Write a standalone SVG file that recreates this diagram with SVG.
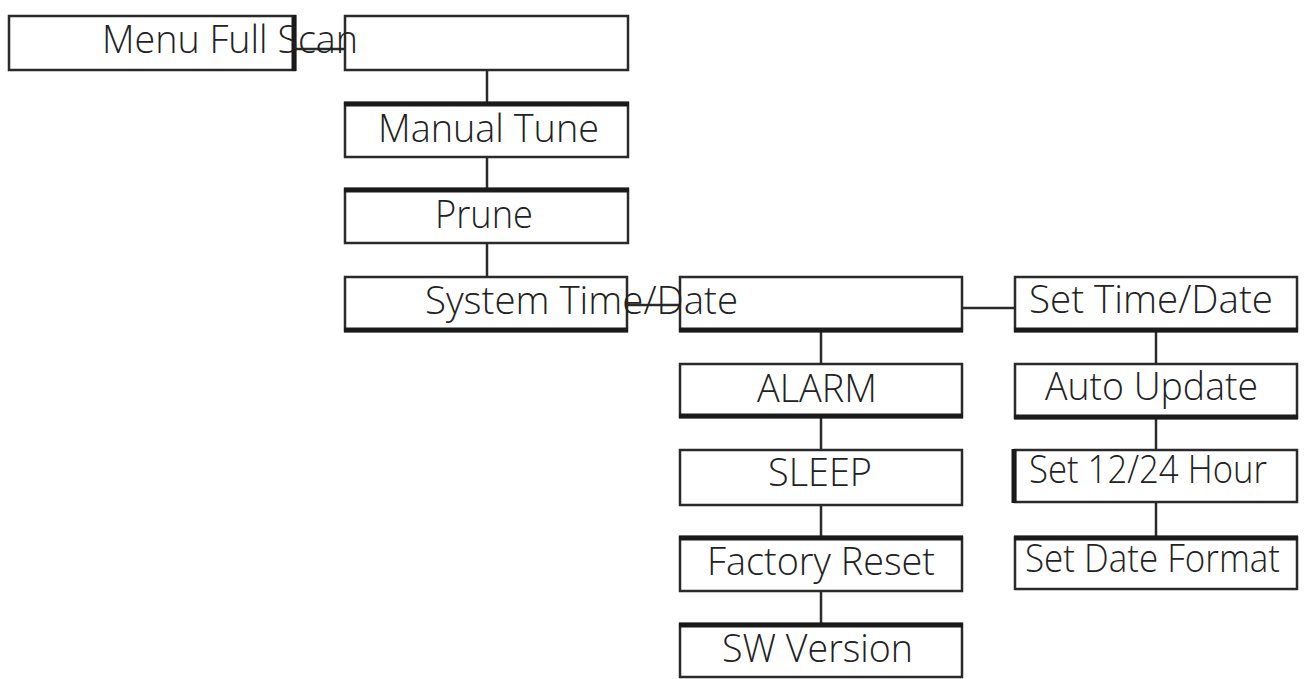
<svg xmlns="http://www.w3.org/2000/svg" width="1306" height="679" viewBox="0 0 1306 679">
<style>
.box{fill:#fff;stroke:#2a2a2a;stroke-width:2.5}
.thick{stroke:#1a1a1a;stroke-width:5;fill:none}
.con{stroke:#2a2a2a;stroke-width:2.5;fill:none}
text{font-family:"Open Sans","Liberation Sans",sans-serif;font-weight:300;font-size:38px;fill:#222}
</style>
<rect width="1306" height="679" fill="#fff"/>
<g id="connectors">
<line class="con" x1="295" y1="49" x2="345" y2="49"/>
<line class="con" x1="487" y1="70" x2="487" y2="103"/>
<line class="con" x1="487" y1="157" x2="487" y2="189"/>
<line class="con" x1="487" y1="243" x2="487" y2="277"/>
<line class="con" x1="627" y1="305" x2="680" y2="305"/>
<line class="con" x1="962" y1="308" x2="1015" y2="308"/>
<line class="con" x1="821" y1="331" x2="821" y2="364"/>
<line class="con" x1="821" y1="417" x2="821" y2="450"/>
<line class="con" x1="821" y1="505" x2="821" y2="537"/>
<line class="con" x1="821" y1="591" x2="821" y2="624"/>
<line class="con" x1="1156" y1="331" x2="1156" y2="364"/>
<line class="con" x1="1156" y1="418" x2="1156" y2="450"/>
<line class="con" x1="1156" y1="502" x2="1156" y2="537"/>
</g>
<g id="n-empty-top">
<rect class="box" x="345" y="16" width="283" height="54"/>
</g>
<g id="n-menu">
<rect class="box" x="9" y="16" width="286" height="54"/>
<line class="thick" x1="294" y1="15" x2="294" y2="71"/>
<text x="102" y="53" textLength="256" lengthAdjust="spacingAndGlyphs">Menu Full Scan</text>
</g>
<g id="n-manual">
<rect class="box" x="345" y="103" width="283" height="54"/>
<line class="thick" x1="344" y1="104" x2="629" y2="104"/>
<text x="378" y="142" textLength="221" lengthAdjust="spacingAndGlyphs">Manual Tune</text>
</g>
<g id="n-prune">
<rect class="box" x="345" y="189" width="283" height="54"/>
<line class="thick" x1="344" y1="190" x2="629" y2="190"/>
<text x="435" y="228" textLength="98" lengthAdjust="spacingAndGlyphs">Prune</text>
</g>
<g id="n-empty-mid">
<rect class="box" x="680" y="277" width="282" height="54"/>
<line class="thick" x1="679" y1="330" x2="963" y2="330"/>
</g>
<g id="n-system">
<rect class="box" x="345" y="277" width="282" height="54"/>
<line class="thick" x1="344" y1="330" x2="628" y2="330"/>
<text x="425" y="314" textLength="313" lengthAdjust="spacingAndGlyphs">System Time/Date</text>
</g>
<g id="n-settime">
<rect class="box" x="1015" y="277" width="282" height="54"/>
<line class="thick" x1="1014" y1="330" x2="1298" y2="330"/>
<text x="1029" y="313" textLength="244" lengthAdjust="spacingAndGlyphs">Set Time/Date</text>
</g>
<g id="n-auto">
<rect class="box" x="1015" y="364" width="282" height="54"/>
<line class="thick" x1="1014" y1="417" x2="1298" y2="417"/>
<text x="1045" y="400" textLength="213" lengthAdjust="spacingAndGlyphs">Auto Update</text>
</g>
<g id="n-1224">
<rect class="box" x="1015" y="450" width="282" height="52"/>
<line class="thick" x1="1014" y1="449" x2="1014" y2="503"/>
<text x="1029" y="483" textLength="238" lengthAdjust="spacingAndGlyphs">Set 12/24 Hour</text>
</g>
<g id="n-dateformat">
<rect class="box" x="1015" y="537" width="282" height="52"/>
<line class="thick" x1="1014" y1="538" x2="1298" y2="538"/>
<text x="1025" y="572" textLength="255" lengthAdjust="spacingAndGlyphs">Set Date Format</text>
</g>
<g id="n-alarm">
<rect class="box" x="680" y="364" width="282" height="53"/>
<line class="thick" x1="679" y1="416" x2="963" y2="416"/>
<text x="757" y="402" textLength="120" lengthAdjust="spacingAndGlyphs">ALARM</text>
</g>
<g id="n-sleep">
<rect class="box" x="680" y="450" width="282" height="55"/>
<text x="768" y="486" textLength="104" lengthAdjust="spacingAndGlyphs">SLEEP</text>
</g>
<g id="n-factory">
<rect class="box" x="680" y="537" width="282" height="54"/>
<line class="thick" x1="679" y1="538" x2="963" y2="538"/>
<text x="707" y="575" textLength="228" lengthAdjust="spacingAndGlyphs">Factory Reset</text>
</g>
<g id="n-sw">
<rect class="box" x="680" y="624" width="282" height="53"/>
<line class="thick" x1="679" y1="625" x2="963" y2="625"/>
<text x="722" y="662" textLength="191" lengthAdjust="spacingAndGlyphs">SW Version</text>
</g>
</svg>
